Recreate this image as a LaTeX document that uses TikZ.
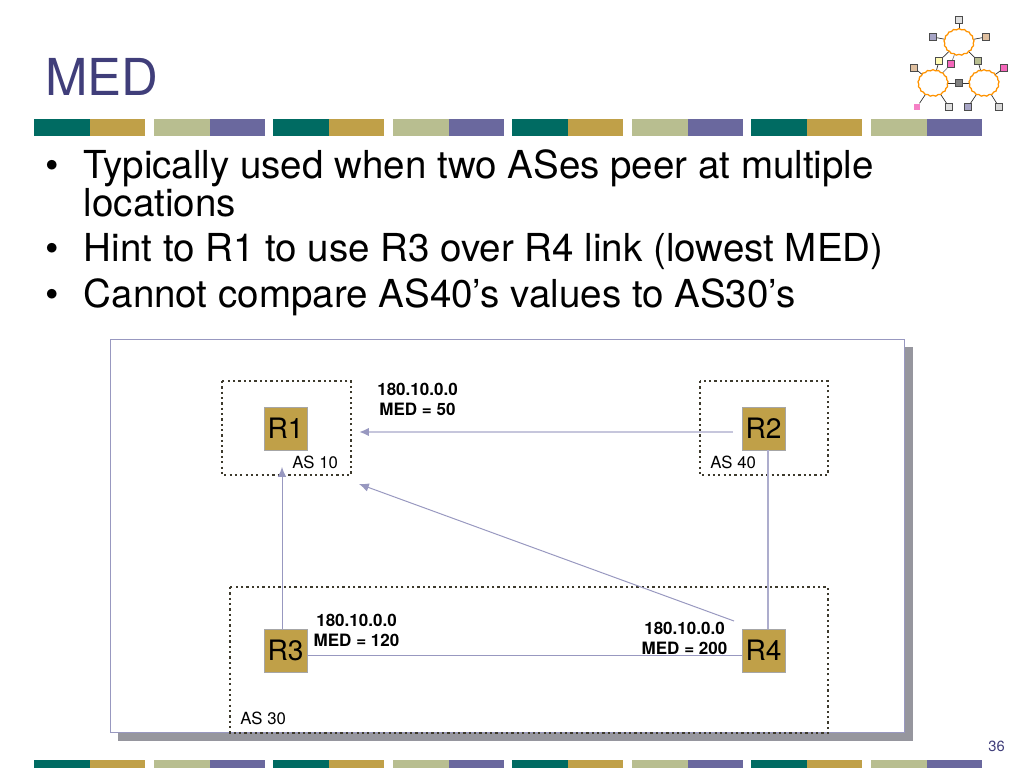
\documentclass[tikz,border=0pt]{standalone}
\usepackage{fontspec}
\setmainfont{TeX Gyre Heros}
\usetikzlibrary{shapes.symbols,arrows.meta}

\definecolor{medtitle}{RGB}{64,62,122}
\definecolor{medteal}{RGB}{0,107,98}
\definecolor{medgold}{RGB}{192,160,72}
\definecolor{medsage}{RGB}{184,190,144}
\definecolor{medviolet}{RGB}{106,104,158}
\definecolor{medline}{RGB}{152,152,192}
\definecolor{medshadow}{RGB}{150,150,158}

\tikzset{
  bodytext/.style={anchor=base west, inner sep=0pt, font=\fontsize{27.4}{30}\selectfont},
  router/.style={draw=gray!70, fill=medgold, minimum size=30.6pt, inner sep=0pt, font=\fontsize{20}{22}\selectfont},
  asbox/.style={draw=black!75!olive, line width=1.9pt, dash pattern=on 1.6pt off 2.2pt},
  medlabel/.style={align=center, inner sep=0pt, font=\fontsize{12.1}{14.3}\selectfont\bfseries},
  aslabel/.style={anchor=base west, inner sep=0pt, font=\fontsize{11.9}{13}\selectfont},
  medlink/.style={draw=medline, line width=0.7pt},
  medarrow/.style={medlink, -{Latex[length=7pt,width=6pt,color=medline]}},
  logocloud/.style={cloud, cloud puffs=17, cloud puff arc=100, draw=orange!85!yellow, fill=white, line width=0.9pt, minimum width=21.5pt, minimum height=19pt, inner sep=0pt, aspect=1.2},
  logosq/.style={draw=black!70, minimum size=4.8pt, inner sep=0pt, line width=0.5pt},
  logolink/.style={draw=black!80, line width=0.5pt},
}

\begin{document}
\begin{tikzpicture}[x=0.025cm, y=-0.025cm]
\useasboundingbox (0,0) rectangle (1024,768);

% stripes
\foreach \i in {0,1,2,3} {
  \fill[medteal] (34+239*\i,119) rectangle ++(55.5,17);
  \fill[medgold] (89.5+239*\i,119) rectangle ++(55.5,17);
  \fill[medsage] (154+239*\i,119) rectangle ++(55.5,17);
  \fill[medviolet] (209.5+239*\i,119) rectangle ++(55.5,17);
  \fill[medteal] (34+239*\i,760) rectangle ++(55.5,8);
  \fill[medgold] (89.5+239*\i,760) rectangle ++(55.5,8);
  \fill[medsage] (154+239*\i,760) rectangle ++(55.5,8);
  \fill[medviolet] (209.5+239*\i,760) rectangle ++(55.5,8);
}

% title and text
\node[anchor=base west, inner sep=0pt, text=medtitle, font=\fontsize{36.2}{40}\selectfont] (title) at (45,96) {MED};
\node[bodytext] (bulleta) at (45,178) {•};
\node[bodytext] (linea) at (83.5,178) {Typically used when two ASes peer at multiple};
\node[bodytext] (lineb) at (83.5,216) {locations};
\node[bodytext] (bulletb) at (45,261) {•};
\node[bodytext] (linec) at (83.5,261) {Hint to R1 to use R3 over R4 link (lowest MED)};
\node[bodytext] (bulletc) at (45,307) {•};
\node[bodytext] (lined) at (83.5,307) {Cannot compare AS40’s values to AS30’s};
\node[anchor=base east, inner sep=0pt, text=medtitle, font=\fontsize{10.5}{12}\selectfont] (pagenum) at (1005,751) {36};

% logo
\node[logosq, fill=gray!25] (sqa) at (959,20) {};
\node[logosq, fill=medviolet!60] (sqb) at (933,37) {};
\node[logosq, fill=brown!50] (sqc) at (986,37) {};
\node[logosq, fill=yellow!30] (sqd) at (939,61) {};
\node[logosq, fill=magenta!60] (sqe) at (951,64) {};
\node[logosq, fill=medsage] (sqf) at (978,61) {};
\node[logosq, fill=brown!50] (sqg) at (914,68) {};
\node[logosq, fill=magenta!60] (sqh) at (1004,68) {};
\node[logosq, fill=gray] (sqi) at (959,83) {};
\node[logosq, draw=none, fill=magenta!50] (sqj) at (917,107) {};
\node[logosq, fill=gray!25] (sqk) at (949,107) {};
\node[logosq, fill=medviolet!60] (sql) at (968,107) {};
\node[logosq, fill=gray!30] (sqm) at (999,107) {};
\coordinate (cloudtop) at (959,42);
\coordinate (cloudleft) at (933,83);
\coordinate (cloudright) at (984,83);
\draw[logolink] (cloudtop) -- (sqa);
\draw[logolink] (cloudtop) -- (sqb);
\draw[logolink] (cloudtop) -- (sqc);
\draw[logolink] (cloudtop) -- (sqd);
\draw[logolink, draw=gray] (cloudtop) -- (sqe);
\draw[logolink] (cloudtop) -- (sqf);
\draw[logolink] (cloudleft) -- (sqd);
\draw[logolink, draw=gray] (cloudleft) -- (sqe);
\draw[logolink] (cloudright) -- (sqf);
\draw[logolink] (cloudleft) -- (sqg);
\draw[logolink] (cloudright) -- (sqh);
\draw[logolink] (cloudleft) -- (sqi);
\draw[logolink] (cloudright) -- (sqi);
\draw[logolink] (cloudleft) -- (sqj);
\draw[logolink] (cloudleft) -- (sqk);
\draw[logolink] (cloudright) -- (sql);
\draw[logolink] (cloudright) -- (sqm);
\node[logocloud] (cloudt) at (cloudtop) {};
\node[logocloud] (cloudl) at (cloudleft) {};
\node[logocloud] (cloudr) at (cloudright) {};
\node[logosq, fill=yellow!30] (sqdtop) at (sqd) {};
\node[logosq, fill=magenta!60] (sqetop) at (sqe) {};

% panel
\fill[medshadow] (118,347) rectangle (913,741);
\draw[fill=white, draw=medline, line width=0.6pt] (110,339) rectangle (904,732);

% AS boxes
\draw[asbox] (222,381) rectangle (351,475);
\draw[asbox] (700,381) rectangle (828,475);
\draw[asbox] (230,587) rectangle (828,733);

% routers
\node[router] (rone) at (285.5,428.5) {R1};
\node[router] (rtwo) at (763.5,428.5) {R2};
\node[router] (rthree) at (285.5,650.5) {R3};
\node[router] (rfour) at (763.5,650.5) {R4};

% free ends of the arrows
\coordinate (asright) at (359,432);
\coordinate (asbottom) at (282,467);
\coordinate (ascorner) at (359,484);
\coordinate (rtwoleft) at (733,432);
\coordinate (rfourcorner) at (734,621);
\coordinate (rlinex) at (768,655);

\draw[medarrow, line width=1.6pt, draw=medline!55] (rtwoleft) -- (asright);
\draw[medarrow] (asbottom |- rthree.north) -- (asbottom);
\draw[medarrow] (rfourcorner) -- (ascorner);
\draw[medlink] (rthree.east |- rlinex) -- (rfour.west |- rlinex);
\draw[medlink, line width=1pt, draw=medline!80] (rlinex |- rtwo.south) -- (rlinex |- rfour.north);

% labels
\node[medlabel] (medone) at (417.5,399.5) {180.10.0.0\\MED = 50};
\node[medlabel] (medthree) at (356.5,630) {180.10.0.0\\MED = 120};
\node[medlabel] (medfour) at (684.5,638.5) {180.10.0.0\\MED = 200};
\node[aslabel] (asten) at (292,468) {AS 10};
\node[aslabel] (asforty) at (710,468) {AS 40};
\node[aslabel] (asthirty) at (240,724) {AS 30};
\end{tikzpicture}
\end{document}
